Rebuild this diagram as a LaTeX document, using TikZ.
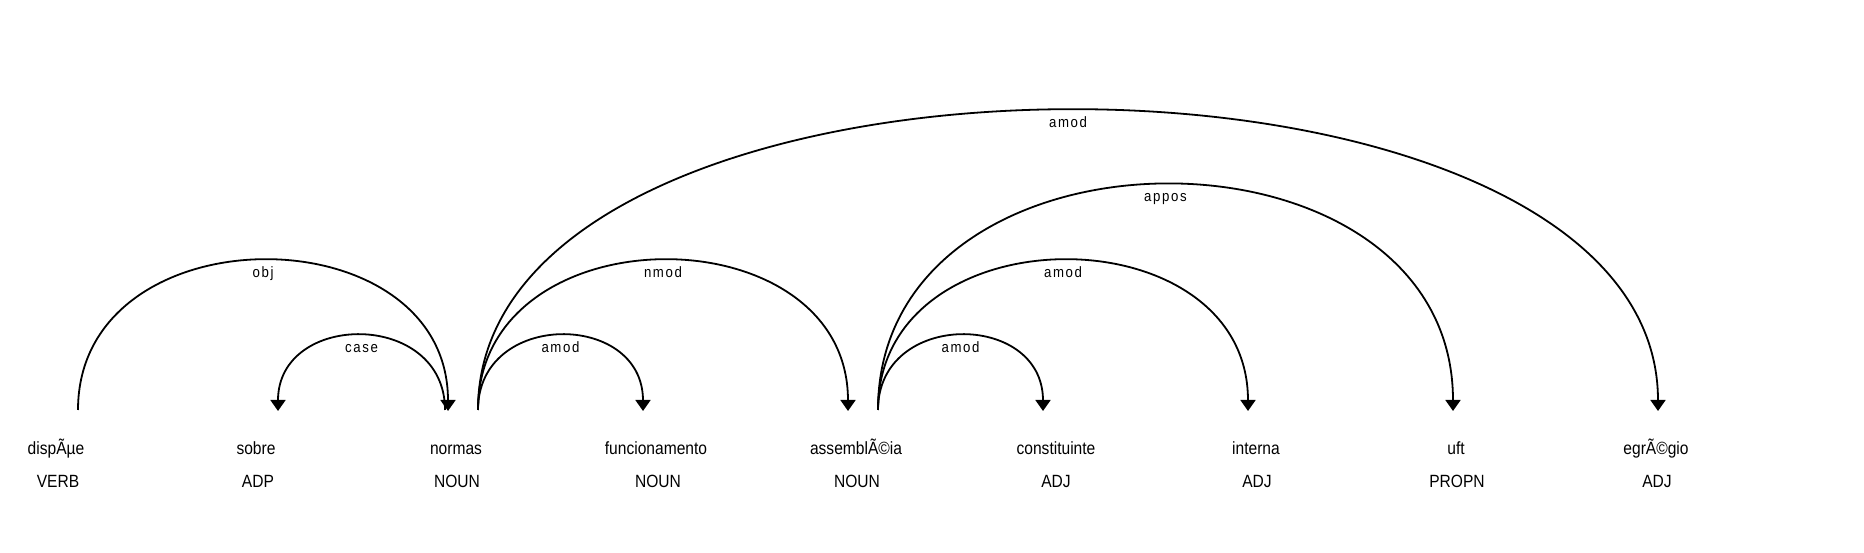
\documentclass[tikz,border=0pt]{standalone}
\usepackage{fontspec}
\setmainfont{Liberation Sans}[FakeStretch=0.88]
\newfontfamily\deplabelfont{Liberation Sans}[FakeStretch=0.88,LetterSpace=11]
\usetikzlibrary{arrows.meta}

\begin{document}
\begin{tikzpicture}[x=1pt,y=1pt,>={Triangle[width=15pt,length=11pt]},
  word/.style={anchor=base,inner sep=0pt,font=\fontsize{17.7}{20}\selectfont},
  deprel/.style={midway,anchor=base,yshift=-17pt,inner sep=0pt,font=\deplabelfont\fontsize{15}{17}\selectfont},
  deparc/.style={->,line width=1.8pt}]
 \useasboundingbox (0,0) rectangle (1864,553);

 % words
 \node[word] (dispoe) at (56,98.5) {dispÃµe};
 \node[word] (sobre) at (256,98.5) {sobre};
 \node[word] (normas) at (456,98.5) {normas};
 \node[word] (funcionamento) at (656,98.5) {funcionamento};
 \node[word] (assembleia) at (856,98.5) {assemblÃ©ia};
 \node[word] (constituinte) at (1056,98.5) {constituinte};
 \node[word] (interna) at (1256,98.5) {interna};
 \node[word] (uft) at (1456,98.5) {uft};
 \node[word] (egregio) at (1656,98.5) {egrÃ©gio};

 % tags
 \node[word] (dispoe-pos) at (58,65) {VERB};
 \node[word] (sobre-pos) at (258,65) {ADP};
 \node[word] (normas-pos) at (457,65) {NOUN};
 \node[word] (funcionamento-pos) at (658,65) {NOUN};
 \node[word] (assembleia-pos) at (857,65) {NOUN};
 \node[word] (constituinte-pos) at (1056,65) {ADJ};
 \node[word] (interna-pos) at (1257,65) {ADJ};
 \node[word] (uft-pos) at (1457,65) {PROPN};
 \node[word] (egregio-pos) at (1657,65) {ADJ};

 % arc ends, a bit off the word centres
 \coordinate (dispoe-out) at (78,143);
 \coordinate (sobre-in) at (278,142);
 \coordinate (normas-in) at (448,142);
 \coordinate (normas-case) at (445,143);
 \coordinate (normas-out) at (478,143);
 \coordinate (funcionamento-in) at (643,142);
 \coordinate (assembleia-in) at (848,142);
 \coordinate (assembleia-out) at (878,143);
 \coordinate (constituinte-in) at (1043,142);
 \coordinate (interna-in) at (1248,142);
 \coordinate (uft-in) at (1453,142);
 \coordinate (egregio-in) at (1658,142);

 \draw[deparc] (dispoe-out) .. controls +(0,200) and +(0,200) .. (normas-in) node[deprel] {obj};
 \draw[deparc] (normas-case) .. controls +(0,100) and +(0,100) .. (sobre-in) node[deprel] {case};
 \draw[deparc] (normas-out) .. controls +(0,100) and +(0,100) .. (funcionamento-in) node[deprel] {amod};
 \draw[deparc] (normas-out) .. controls +(0,200) and +(0,200) .. (assembleia-in) node[deprel] {nmod};
 \draw[deparc] (normas-out) .. controls +(0,400) and +(0,400) .. (egregio-in) node[deprel] {amod};
 \draw[deparc] (assembleia-out) .. controls +(0,100) and +(0,100) .. (constituinte-in) node[deprel] {amod};
 \draw[deparc] (assembleia-out) .. controls +(0,200) and +(0,200) .. (interna-in) node[deprel] {amod};
 \draw[deparc] (assembleia-out) .. controls +(0,301) and +(0,301) .. (uft-in) node[deprel] {appos};
\end{tikzpicture}
\end{document}
